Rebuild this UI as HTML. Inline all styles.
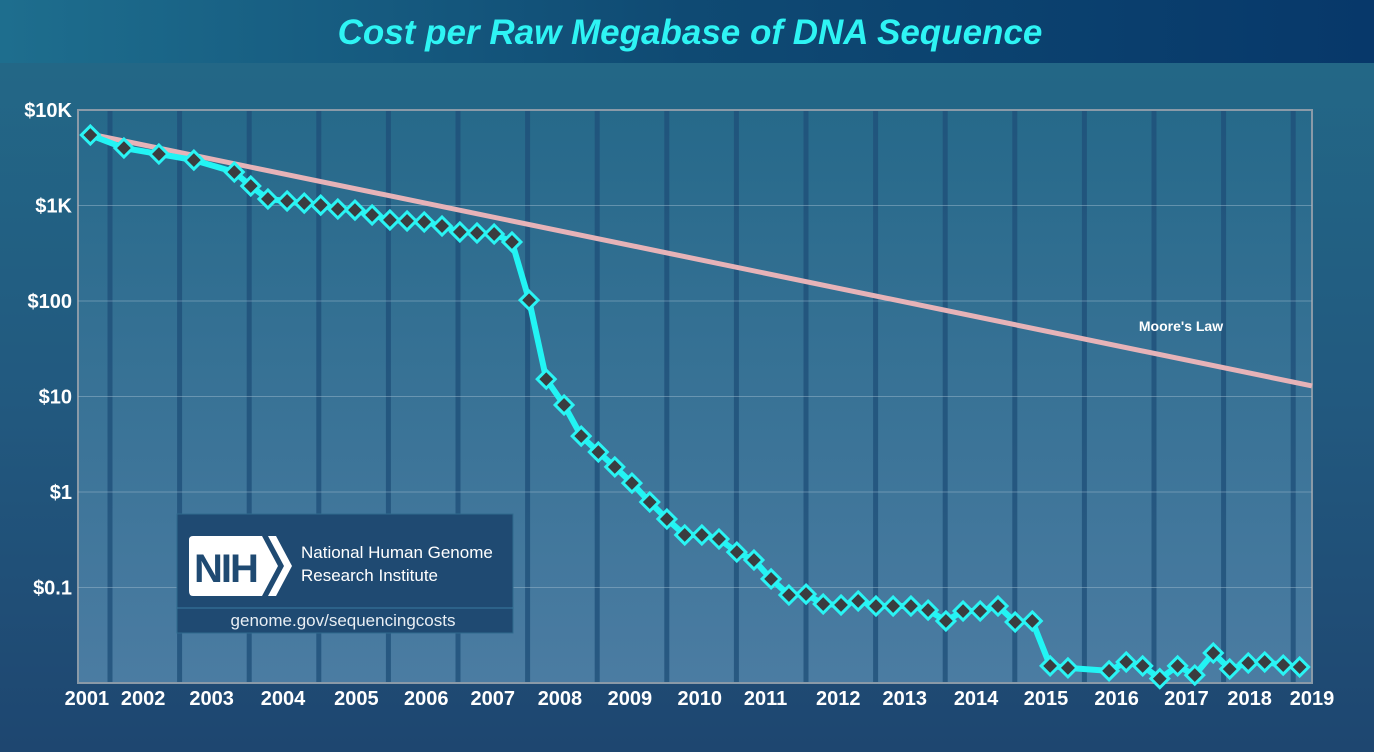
<!DOCTYPE html>
<html><head><meta charset="utf-8"><style>
html,body{margin:0;padding:0;}
body{width:1374px;height:752px;overflow:hidden;background:linear-gradient(#236a88 0px,#22597f 400px,#1e4670 752px);font-family:"Liberation Sans",sans-serif;}
#title-bar{position:absolute;left:0;top:0;width:1374px;height:63px;background:linear-gradient(90deg,#1e6e8e,#0f4a73 50%,#07386a);}
#title{position:absolute;left:0;width:1380px;top:13px;text-align:center;color:#2ef4f4;font-size:35px;font-weight:bold;font-style:italic;}
svg{position:absolute;left:0;top:0;}
</style></head><body>
<div id="title-bar"></div>
<div id="title">Cost per Raw Megabase of DNA Sequence</div>
<svg id="chart" width="1374" height="752"></svg>
<script>
const dates=[2001.18,2001.67,2002.18,2002.69,2003.28,2003.52,2003.77,2004.05,2004.30,2004.54,2004.79,2005.04,2005.29,2005.55,2005.80,2006.05,2006.31,2006.57,2006.82,2007.07,2007.33,2007.58,2007.83,2008.09,2008.34,2008.59,2008.83,2009.08,2009.34,2009.59,2009.85,2010.10,2010.35,2010.61,2010.86,2011.11,2011.37,2011.62,2011.87,2012.13,2012.38,2012.64,2012.89,2013.15,2013.40,2013.66,2013.91,2014.16,2014.42,2014.67,2014.92,2015.18,2015.44,2016.04,2016.29,2016.53,2016.78,2017.04,2017.29,2017.56,2017.80,2018.07,2018.31,2018.58,2018.82];
const costs=[5470,4000,3460,2990,2240,1600,1170,1115,1060,1010,918,895,796,705,689,672,610,528,516,503,415,102,15.2,8.15,3.85,2.62,1.83,1.24,0.785,0.521,0.355,0.355,0.322,0.235,0.194,0.123,0.0834,0.0853,0.0671,0.0656,0.0723,0.064,0.064,0.064,0.058,0.0446,0.0567,0.0567,0.064,0.0435,0.0446,0.0151,0.0144,0.0134,0.0166,0.0151,0.0111,0.0151,0.0121,0.0206,0.0140,0.0162,0.0166,0.0154,0.0147];
const mooreDates=[2001.18,2019.0];
const mooreCosts=[5600,12.9];
const yTickValues=[10000,1000,100,10,1,0.1];
const yTickLabels=["$10K","$1K","$100","$10","$1","$0.1"];
const xTickLabels=["2001","2002","2003","2004","2005","2006","2007","2008","2009","2010","2011","2012","2013","2014","2015","2016","2017","2018","2019"];
const xTickDates=[2001.13,2001.95,2002.95,2003.99,2005.06,2006.08,2007.05,2008.03,2009.05,2010.07,2011.03,2012.09,2013.06,2014.10,2015.12,2016.15,2017.17,2018.09,2019.0];

const L=78,R=1312,T=110,B=683;
const X=t=>L+(t-2001)*(R-L)/18;
const Y=v=>T+(4-Math.log10(v))*(B-T)/6;
const NS="http://www.w3.org/2000/svg";
const svg=document.getElementById('chart');
function mk(tag,attrs,parent){const e=document.createElementNS(NS,tag);for(const k in attrs)e.setAttribute(k,attrs[k]);(parent||svg).appendChild(e);return e;}
const defs=mk('defs',{});
const g=mk('linearGradient',{id:'pg',x1:0,y1:0,x2:0,y2:1},defs);
mk('stop',{offset:'0','stop-color':'#26698a'},g);mk('stop',{offset:'1','stop-color':'#4b7ca2'},g);
const pa=mk('rect',{x:L,y:T,width:R-L,height:B-T,fill:'url(#pg)',stroke:'#8a9aa8','stroke-width':2});


for(let k=0;k<18;k++){
  const b=mk('rect',{x:110+k*69.6-2.5,y:T+1,width:5,height:B-T-2,fill:'#1f5079',opacity:0.8});
  
  
}
yTickValues.forEach((v,i)=>{
  if(i>0){const gl=mk('line',{x1:L,x2:R,y1:Y(v),y2:Y(v),stroke:'#9ab8cc','stroke-width':1,opacity:0.5});
  
  }
  const t=mk('text',{x:72,y:Y(v)+7,'text-anchor':'end',fill:'#fff','font-size':20,'font-weight':'bold','font-family':'Liberation Sans, sans-serif'});
  t.textContent=yTickLabels[i];
  
  
});
xTickLabels.forEach((s,i)=>{
  const t=mk('text',{x:X(xTickDates[i]),y:705,'text-anchor':'middle',fill:'#fff','font-size':20,'font-weight':'bold','font-family':'Liberation Sans, sans-serif'});
  t.textContent=s;
  
  
});
const ml=mk('line',{x1:X(mooreDates[0]),y1:Y(mooreCosts[0]),x2:X(mooreDates[1]),y2:Y(mooreCosts[1]),stroke:'#e6b3b8','stroke-width':5});


const mt=mk('text',{x:1181,y:331,'text-anchor':'middle',fill:'#fff','font-size':14,'font-weight':'bold','font-family':'Liberation Sans, sans-serif'});
mt.textContent="Moore's Law";


const pts=dates.map((d,i)=>X(d)+','+Y(costs[i])).join(' ');
const cl=mk('polyline',{points:pts,fill:'none',stroke:'#22f4f4','stroke-width':6,'stroke-linejoin':'round'});


dates.forEach((d,i)=>{
  const x=X(d),y=Y(costs[i]),r=9;
  const p=mk('polygon',{points:`${x},${y-r} ${x+r},${y} ${x},${y+r} ${x-r},${y}`,fill:'#3a3d40',stroke:'#2af4f4','stroke-width':3});
  
  
});
// NIH box
const box=mk('g',{});


mk('rect',{x:177,y:514,width:336,height:119,fill:'#1f4a72',stroke:'#2f6a8e','stroke-width':1},box);
mk('line',{x1:177,x2:513,y1:608,y2:608,stroke:'#3a7aa0','stroke-width':1},box);
mk('path',{d:'M193,536 Q189,536 189,540 L189,591 Q189,596 193,596 L262,596 L278,566 L262,536 Z',fill:'#fff'},box);
mk('path',{d:'M268,536 L276,536 L292,566 L276,596 L268,596 L284,566 Z',fill:'#fff'},box);
const nt=mk('text',{x:194,y:582,fill:'#1f4a72','font-size':40,'font-weight':'bold','font-family':'Liberation Sans, sans-serif','letter-spacing':-2},box);
nt.textContent='NIH';
const t1=mk('text',{x:301,y:558,fill:'#fff','font-size':17,'font-family':'Liberation Sans, sans-serif'},box);
t1.textContent='National Human Genome';
const t2=mk('text',{x:301,y:581,fill:'#fff','font-size':17,'font-family':'Liberation Sans, sans-serif'},box);
t2.textContent='Research Institute';
const t3=mk('text',{x:343,y:626,'text-anchor':'middle',fill:'#e8eef4','font-size':17,'font-family':'Liberation Sans, sans-serif'},box);
t3.textContent='genome.gov/sequencingcosts';


</script>
</body></html>
